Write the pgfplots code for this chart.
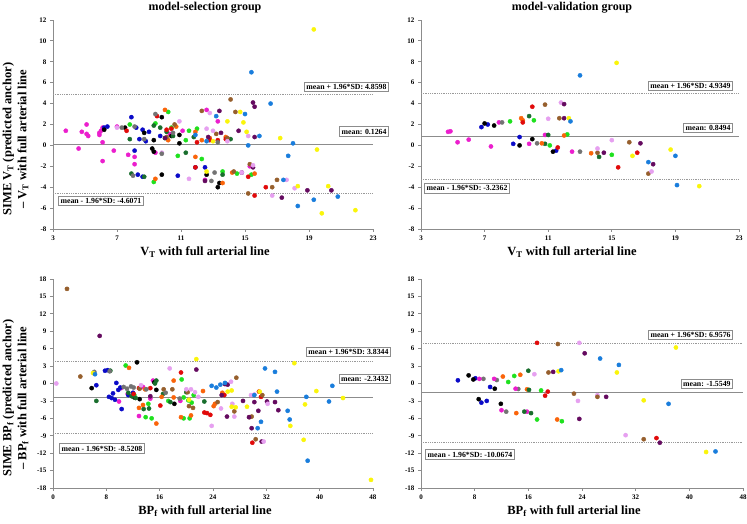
\documentclass[border=0pt]{standalone}
\usepackage{fontspec}
\setmainfont{Liberation Serif}
\usepackage{pgfplots}
\usepackage{pgfplotstable}
\pgfplotsset{compat=1.18}

\definecolor{cmg}{RGB}{235,30,205}
\definecolor{cnv}{RGB}{10,10,200}
\definecolor{cbk}{RGB}{0,0,0}
\definecolor{cgr}{RGB}{30,225,30}
\definecolor{cdg}{RGB}{25,110,45}
\definecolor{cor}{RGB}{250,100,10}
\definecolor{crd}{RGB}{225,10,10}
\definecolor{cbr}{RGB}{150,95,45}
\definecolor{cpu}{RGB}{100,10,95}
\definecolor{cvi}{RGB}{230,160,240}
\definecolor{cgy}{RGB}{115,115,115}
\definecolor{cye}{RGB}{250,245,10}
\definecolor{caz}{RGB}{25,125,220}

% model-selection, V_T
\pgfplotstableread{
x y c
3.8 1.4 mg
4.6 -0.3 mg
4.8 1.3 mg
5.1 1.1 mg
5.2 0.9 mg
5.1 2.0 mg
5.9 1.2 mg
6.0 1.4 mg
6.1 1.7 mg
5.9 1.0 mg
6.1 0.3 mg
6.1 -1.5 mg
6.8 -0.5 mg
7.0 1.8 mg
7.7 -0.9 mg
8.1 -1.1 mg
8.1 -1.8 mg
9.4 -0.7 mg
10.3 1.1 mg
12.6 3.4 mg
13.3 2.3 mg
12.5 -3.3 mg
15.3 -2.0 mg
11.1 1.4 mg
6.2 1.7 nv
6.4 1.8 nv
7.9 2.7 nv
8.2 1.7 nv
8.6 1.5 nv
8.4 0.6 nv
8.8 0.4 nv
8.1 -0.5 nv
8.3 -2.8 nv
8.6 -3.0 nv
9.0 1.3 nv
9.7 0.9 nv
10.8 -2.9 nv
11.9 -2.1 nv
12.5 -2.1 nv
6.2 1.5 bk
7.5 1.7 bk
8.7 1.2 bk
9.2 -0.3 bk
9.3 -0.6 bk
9.3 0.5 bk
9.8 2.7 bk
9.8 -2.8 bk
10.9 0.2 bk
10.9 1.0 bk
12.6 -2.8 bk
13.3 -4.0 bk
13.4 -3.6 bk
10.4 0.9 bk
7.8 2.0 gr
9.3 -3.5 gr
9.4 2.1 gr
10.2 3.2 gr
10.4 1.7 gr
10.8 -1.0 gr
11.3 0.5 gr
11.5 1.4 gr
12.0 1.6 gr
12.3 -1.3 gr
13.6 -2.5 gr
14.5 -2.7 gr
15.4 -2.8 gr
10.0 0.7 gr
7.8 0.6 dg
7.9 -2.7 dg
8.7 -3.0 dg
9.3 1.9 dg
9.7 1.7 dg
10.5 0.9 dg
11.3 -0.7 dg
11.8 0.8 dg
13.6 -2.8 dg
14.1 0.6 dg
10.1 1.3 dg
10.0 3.4 or
9.4 -3.2 or
10.2 0.5 or
10.7 1.8 or
11.9 1.3 or
12.3 0.5 or
12.8 0.7 or
13.8 0.8 or
13.6 -3.6 or
14.2 -2.6 or
15.6 -2.7 or
11.9 -1.1 or
7.6 1.4 rd
9.5 2.8 rd
10.1 1.5 rd
11.9 -2.1 rd
12.0 0.3 rd
12.8 0.5 rd
13.3 0.5 rd
13.8 0.6 rd
15.2 -3.0 rd
15.6 -4.8 rd
16.3 -4.0 rd
10.4 1.6 rd
10.1 0.8 br
10.6 2.0 br
12.3 3.3 br
13.2 1.1 br
13.9 0.7 br
14.1 4.4 br
14.4 3.2 br
14.3 -2.5 br
15.3 -1.8 br
15.2 -4.6 br
16.7 -4.0 br
17.0 -3.3 br
10.0 0.7 pu
12.5 -3.4 pu
12.7 0.8 pu
13.4 3.3 pu
13.5 1.2 pu
14.6 1.4 pu
15.5 4.1 pu
15.6 3.7 pu
15.6 0.8 pu
15.5 -2.1 pu
14.8 -2.6 pu
17.3 -5.0 pu
18.9 -4.3 pu
20.4 -4.3 pu
7.0 1.7 vi
9.8 -0.7 vi
10.9 2.3 vi
11.5 -3.2 vi
12.6 1.6 vi
12.8 3.1 vi
13.0 1.4 vi
13.9 0.4 vi
15.2 0.9 vi
15.5 -1.9 vi
14.8 -2.6 vi
16.7 -4.8 vi
17.6 -3.3 vi
18.1 -4.1 vi
7.3 1.7 gy
8.0 -2.9 gy
8.1 1.8 gy
8.7 0.6 gy
9.4 3.0 gy
9.8 -0.8 gy
10.5 1.2 gy
12.9 -3.4 gy
13.1 -2.6 gy
13.3 0.3 gy
12.6 -2.5 ye
13.0 0.4 ye
13.9 2.3 ye
14.7 3.2 ye
14.9 2.2 ye
15.1 1.3 ye
17.2 0.7 ye
18.3 -3.9 ye
19.3 11.1 ye
19.5 -0.4 ye
19.8 -6.5 ye
20.2 -3.9 ye
21.9 -6.2 ye
11.9 1.0 az
12.6 0.4 az
13.2 2.8 az
15.0 3.0 az
15.4 7.0 az
15.2 0.0 az
15.9 0.9 az
16.6 4.0 az
18.0 0.2 az
17.7 -1.0 az
17.4 -3.3 az
18.3 -5.8 az
19.3 -5.2 az
20.8 -4.9 az
}\tTL

% model-validation, V_T
\pgfplotstableread{
x y c
4.7 1.3 mg
4.85 1.35 mg
5.3 0.3 mg
6.0 0.55 mg
7.4 -0.1 mg
7.9 2.2 mg
9.8 0.15 mg
10.8 1.0 mg
12.5 -0.6 mg
6.8 1.75 nv
7.2 2.0 nv
8.8 0.15 nv
9.2 0.8 nv
11.5 -0.5 nv
7.0 2.1 bk
7.6 1.9 bk
9.2 0.0 bk
10.0 0.6 bk
11.3 -0.6 bk
8.1 2.2 gy
10.3 0.2 gy
13.0 -0.6 gy
8.6 2.3 gr
10.1 2.4 gr
11.1 0.0 gr
12.2 1.05 gr
15.0 -0.9 gr
9.8 2.8 dg
11.0 1.0 dg
10.8 0.15 dg
14.2 -1.1 dg
9.3 2.6 or
9.4 2.4 or
10.6 0.2 or
12.0 0.95 or
13.7 -0.75 or
9.4 2.2 rd
10.0 3.7 rd
11.6 -0.2 rd
15.4 -2.1 rd
16.6 -0.7 rd
10.8 3.9 br
11.7 2.6 br
14.1 -0.7 br
16.1 0.3 br
17.3 -2.7 br
11.8 4.1 vi
11.0 2.55 vi
14.1 -0.3 vi
15.0 0.5 vi
17.5 -2.5 vi
12.0 3.95 pu
12.0 2.6 pu
14.5 -0.7 pu
16.8 0.2 pu
17.6 -1.8 pu
15.3 7.9 ye
12.3 2.6 ye
16.3 -1.0 ye
18.7 -0.4 ye
20.5 -3.9 ye
13.0 6.7 az
12.4 2.3 az
17.3 -1.6 az
19.0 -1.0 az
19.1 -3.8 az
}\tTR

% model-selection, BP_f
\pgfplotstableread{
x y c
9.9 -3.1 mg
10.2 -0.8 mg
12.9 -5.6 mg
13.5 -0.6 mg
14.6 -2.6 mg
19.1 -3.0 mg
15.0 0.5 mg
11.2 -1.8 mg
7.8 2.2 nv
8.2 2.3 nv
8.4 -2.3 nv
8.8 -2.5 nv
9.0 -1.7 nv
9.3 -2.8 nv
9.5 0.1 nv
9.8 -1.1 nv
10.1 -0.7 nv
10.3 -4.4 nv
6.5 -0.3 nv
12.0 -1.6 nv
11.3 -2.0 nv
5.8 -0.8 bk
12.6 3.65 bk
15.5 -1.1 bk
18.2 -3.5 bk
12.2 -2.4 bk
15.2 0.2 bk
13.0 -2.7 bk
10.9 3.1 gr
13.9 -5.8 gr
14.8 -6.0 gr
14.3 -3.5 gr
19.3 0.7 gr
19.6 -6.0 gr
20.5 -6.0 gr
19.6 -2.4 gr
20.3 -2.9 gr
20.8 -3.3 gr
21.1 -2.0 gr
17.3 -3.0 gr
12.2 -2.0 gr
6.5 -3.0 dg
8.6 2.2 dg
11.3 -1.6 dg
11.8 -2.2 dg
12.4 -2.5 dg
13.6 -4.4 dg
14.4 -4.3 dg
15.3 0.0 dg
15.5 0.5 dg
17.6 -3.2 dg
22.7 -3.1 dg
16.5 -1.8 dg
20.0 -1.5 dg
11.4 2.7 or
12.9 -4.2 or
13.5 -3.7 or
15.5 -6.9 or
16.3 -2.3 or
18.1 -2.4 or
18.1 0.5 or
19.2 -5.8 or
20.7 -5.5 or
24.3 -3.5 or
24.1 -3.9 or
25.4 -1.6 or
22.5 -1.3 or
13.8 -1.0 or
12.1 -1.8 rd
12.9 -0.8 rd
16.1 -3.8 rd
19.2 1.9 rd
22.7 -5.0 rd
23.1 -5.1 rd
23.6 -5.4 rd
25.7 -2.0 rd
29.9 -10.2 rd
30.9 -1.4 rd
31.2 -2.3 rd
14.6 -0.8 rd
2.1 16.3 br
4.1 1.2 br
16.6 -1.0 br
17.9 -1.0 br
20.2 -1.5 br
20.4 -3.9 br
21.0 -4.2 br
24.7 -3.2 br
27.2 -4.8 br
27.5 1.0 br
29.5 -5.8 br
29.8 -5.7 br
30.4 -9.6 br
31.4 -2.0 br
13.0 -0.9 br
7.0 8.2 pu
21.5 2.4 pu
25.8 -0.1 pu
26.2 -0.2 pu
25.3 -2.0 pu
26.1 -5.7 pu
28.5 -3.0 pu
29.4 -5.8 pu
29.8 -7.7 pu
30.2 -3.2 pu
30.8 -4.7 pu
31.3 -10.0 pu
33.3 -3.2 pu
33.8 -4.6 pu
32.1 -3.1 pu
14.6 -2.2 pu
0.5 0.0 vi
17.5 2.6 vi
20.0 -1.0 vi
20.7 -1.0 vi
21.3 -1.5 vi
21.8 -2.3 vi
23.8 -7.3 vi
25.2 -4.3 vi
26.7 0.3 vi
26.9 -3.5 vi
27.2 -5.7 vi
29.7 -2.0 vi
30.2 -1.9 vi
31.6 -10.0 vi
32.2 -3.5 vi
13.2 -0.3 vi
6.2 2.0 gy
8.5 2.1 gy
10.6 -0.6 gy
11.1 -0.9 gy
11.7 -0.5 gy
12.1 -0.7 gy
14.0 -1.0 gy
19.0 -2.6 gy
16.9 -1.6 gy
6.0 1.8 ye
21.5 4.2 ye
26.2 -1.4 ye
26.8 -1.2 ye
26.8 -4.0 ye
27.4 -4.1 ye
29.1 -4.0 ye
31.0 -1.4 ye
35.6 -7.3 ye
36.2 3.5 ye
37.6 -9.7 ye
37.8 -3.6 ye
39.5 -1.3 ye
43.5 -2.5 ye
47.7 -16.6 ye
20.4 -2.8 ye
6.3 1.6 az
23.8 -0.4 az
24.5 -0.7 az
25.1 -0.2 az
25.8 0.1 az
30.2 -2.0 az
30.7 -7.7 az
31.2 -6.6 az
31.8 2.6 az
33.3 2.0 az
33.6 -1.4 az
35.2 -4.7 az
35.5 -6.2 az
38.0 -2.3 az
38.2 -13.3 az
41.4 -3.1 az
41.9 -0.4 az
}\tBL

% model-validation, BP_f
\pgfplotstableread{
x y c
5.5 0.55 nv
8.1 0.9 nv
9.0 -3.3 nv
9.8 -3.0 nv
10.3 -0.6 nv
7.1 1.4 bk
7.8 0.7 bk
8.6 -2.7 bk
11.0 -0.9 bk
11.9 -3.5 bk
9.3 0.8 gy
14.5 -0.95 gy
12.7 -4.85 gy
11.3 0.6 gy
8.7 0.8 mg
10.9 0.8 mg
14.1 -0.9 mg
12.0 -4.6 mg
15.8 -4.85 mg
12.2 1.2 or
14.8 1.5 or
15.8 -1.0 or
14.2 -5.1 or
20.3 -6.2 or
13.0 0.26 gr
13.9 1.3 gr
17.9 -1.2 gr
17.3 -6.2 gr
21.0 -6.5 gr
16.0 2.2 dg
16.1 -1.1 dg
15.4 -4.85 dg
16.4 -5.1 dg
16.9 1.6 vi
23.6 7.0 vi
23.4 -3.0 vi
26.3 -2.0 vi
30.5 -8.9 vi
19.0 1.9 br
20.4 6.8 br
22.8 -1.75 br
26.3 -2.3 br
33.2 -9.6 br
19.7 2.0 pu
24.4 5.2 pu
27.6 -2.3 pu
23.6 -6.1 pu
35.6 -10.2 pu
17.3 7.0 rd
18.9 -1.4 rd
18.5 -2.1 rd
35.1 -9.4 rd
20.5 2.1 ye
29.2 1.9 ye
38.0 6.2 ye
33.2 -2.9 ye
42.5 -11.8 ye
20.9 2.3 az
26.7 4.3 az
29.5 3.2 az
36.9 -3.5 az
43.9 -11.7 az
}\tBR

\tikzset{
  lbl/.style={draw=black!45, line width=0.9pt, fill=white, inner sep=2pt,
    font=\fontsize{7.8}{8.5}\selectfont\bfseries},
}
\pgfplotsset{
  ba/.style={
    scale only axis, width=320pt, height=209pt,
    axis x line*=bottom, axis y line*=left,
    axis line style={-, draw=black!45, line width=0.9pt},
    tick style={draw=black!45, line width=0.8pt},
    tick align=outside, major tick length=3pt,
    /pgf/number format/assume math mode=true,
    tick label style={font=\fontsize{7}{8}\selectfont\bfseries},
    label style={font=\fontsize{12.5}{15}\selectfont\bfseries},
    xlabel style={xshift=-8pt},
    title style={font=\fontsize{12}{14}\selectfont\bfseries,
      at={(axis description cs:0.475,1)}, anchor=base, yshift=3pt},
    clip=false,
    scatter/classes={
      mg={mark=*, draw=cmg, fill=cmg},
      nv={mark=*, draw=cnv, fill=cnv},
      bk={mark=*, draw=cbk, fill=cbk},
      gr={mark=*, draw=cgr, fill=cgr},
      dg={mark=*, draw=cdg, fill=cdg},
      or={mark=*, draw=cor, fill=cor},
      rd={mark=*, draw=crd, fill=crd},
      br={mark=*, draw=cbr, fill=cbr},
      pu={mark=*, draw=cpu, fill=cpu},
      vi={mark=*, draw=cvi, fill=cvi},
      gy={mark=*, draw=cgy, fill=cgy},
      ye={mark=*, draw=cye, fill=cye},
      az={mark=*, draw=caz, fill=caz}},
  },
  topp/.style={xmin=3, xmax=23, ymin=-8, ymax=12,
    xtick={3,7,...,23}, ytick={-8,-6,...,12},
    xlabel={V\textsubscript{T} with full arterial line}},
  botp/.style={xmin=0, xmax=48, ymin=-18, ymax=18,
    xtick={0,8,...,48}, ytick={-18,-15,...,18},
    xlabel={BP\textsubscript{f} with full arterial line}},
  ylab/.style={ylabel style={align=center,
    at={(axis description cs:-0.117,0.43)}, anchor=center}},
  pts/.style={scatter, only marks, scatter src=explicit symbolic, mark size=2.1pt},
  meanline/.style={black!45, line width=1pt},
  sdline/.style={black!40, densely dotted, line width=0.8pt},
}

\begin{document}
\begin{tikzpicture}
\path[use as bounding box] (0,0) rectangle (747pt,524pt);

\begin{axis}[ba, topp, ylab, at={(53pt,295pt)}, anchor=south west,
  title={model-selection group},
  ylabel={SIME V\textsubscript{T} (predicted anchor)\\– V\textsubscript{T} with full arterial line}]
\addplot[sdline] coordinates {(3,4.8598) (23,4.8598)};
\addplot[meanline] coordinates {(3,0.1264) (23,0.1264)};
\addplot[sdline] coordinates {(3,-4.6071) (23,-4.6071)};
\addplot[pts] table[x=x, y=y, meta=c] \tTL;
\node[lbl, anchor=east] at (rel axis cs:1.05,0.68) {mean + 1.96*SD: 4.8598};
\node[lbl, anchor=east] at (rel axis cs:1.05,0.466) {mean: 0.1264};
\node[lbl, anchor=west] at (rel axis cs:0.016,0.134) {mean - 1.96*SD: -4.6071};
\end{axis}

\begin{axis}[ba, topp, at={(421pt,295pt)}, anchor=south west, width=318pt,
  title={model-validation group}]
\addplot[sdline] coordinates {(3,4.9349) (23,4.9349)};
\addplot[meanline] coordinates {(3,0.8494) (23,0.8494)};
\addplot[sdline] coordinates {(3,-3.2362) (23,-3.2362)};
\addplot[pts] table[x=x, y=y, meta=c] \tTR;
\node[lbl, anchor=east] at (rel axis cs:0.981,0.684) {mean + 1.96*SD: 4.9349};
\node[lbl, anchor=east] at (rel axis cs:0.981,0.483) {mean: 0.8494};
\node[lbl, anchor=west] at (rel axis cs:0.01,0.194) {mean - 1.96*SD: -3.2362};
\end{axis}

\begin{axis}[ba, botp, ylab, at={(53pt,36pt)}, anchor=south west,
  ylabel={SIME BP\textsubscript{f} (predicted anchor)\\– BP\textsubscript{f} with full arterial line}]
\addplot[sdline] coordinates {(0,3.8344) (48,3.8344)};
\addplot[meanline] coordinates {(0,-2.3432) (48,-2.3432)};
\addplot[sdline] coordinates {(0,-8.5208) (48,-8.5208)};
\addplot[pts] table[x=x, y=y, meta=c] \tBL;
\node[lbl, anchor=east] at (rel axis cs:1.056,0.651) {mean + 1.96*SD: 3.8344};
\node[lbl, anchor=east] at (rel axis cs:1.056,0.522) {mean: -2.3432};
\node[lbl, anchor=west] at (rel axis cs:0.019,0.189) {mean - 1.96*SD: -8.5208};
\end{axis}

\begin{axis}[ba, botp, at={(421pt,36pt)}, anchor=south west, width=322pt]
\addplot[sdline] coordinates {(0,6.9576) (48,6.9576)};
\addplot[meanline] coordinates {(0,-1.5549) (48,-1.5549)};
\addplot[sdline] coordinates {(0,-10.0674) (48,-10.0674)};
\addplot[pts] table[x=x, y=y, meta=c] \tBR;
\node[lbl, anchor=east] at (rel axis cs:0.969,0.732) {mean + 1.96*SD: 6.9576};
\node[lbl, anchor=east] at (rel axis cs:0.969,0.498) {mean: -1.5549};
\node[lbl, anchor=west] at (rel axis cs:0.013,0.160) {mean - 1.96*SD: -10.0674};
\end{axis}
\end{tikzpicture}
\end{document}
